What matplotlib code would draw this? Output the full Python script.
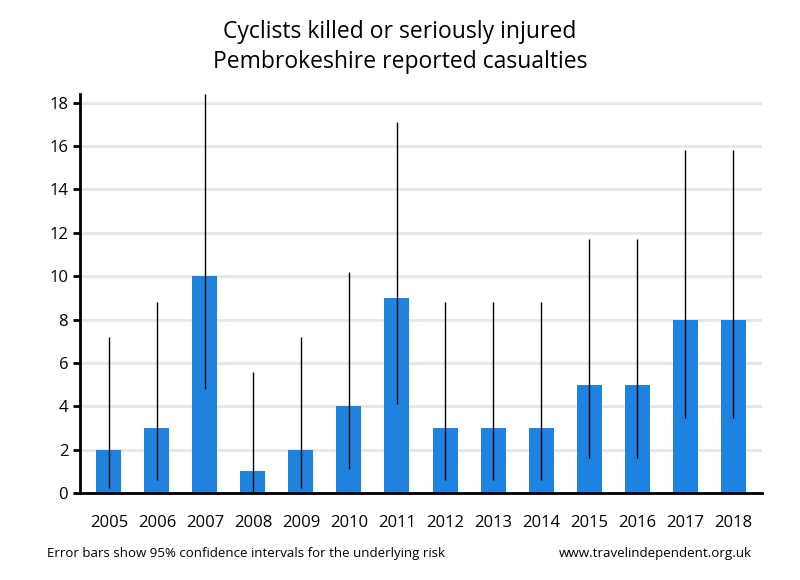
import matplotlib.pyplot as plt

years = ['2005', '2006', '2007', '2008', '2009', '2010', '2011',
         '2012', '2013', '2014', '2015', '2016', '2017', '2018']
casualties = [2, 3, 10, 1, 2, 4, 9, 3, 3, 3, 5, 5, 8, 8]
ci_low = [0.24, 0.62, 4.8, 0.03, 0.24, 1.09, 4.1, 0.62, 0.62, 0.62, 1.62, 1.62, 3.45, 3.45]
ci_high = [7.2, 8.8, 18.4, 5.6, 7.2, 10.2, 17.1, 8.8, 8.8, 8.8, 11.7, 11.7, 15.8, 15.8]

plt.rcParams['font.family'] = ['Open Sans', 'DejaVu Sans']

fig = plt.figure(figsize=(8, 5.8), dpi=100)
ax = fig.add_axes([0.1, 0.15, 0.8525, 0.688])

x = range(len(years))
ax.bar(x, casualties, width=0.52, color='#1e82e0', zorder=2)
ax.vlines(x, ci_low, ci_high, color='black', linewidth=1, zorder=3)

ax.set_xlim(-0.6, 13.6)
ax.set_ylim(0, 18.4)
ax.set_yticks(range(0, 19, 2))
ax.set_xticks(list(x))
ax.set_xticklabels(years)
ax.grid(axis='y', color='#e6e6e6', linewidth=2, zorder=0)
ax.set_axisbelow(True)

for s in ['top', 'right']:
    ax.spines[s].set_visible(False)
ax.spines['left'].set_linewidth(2)
ax.spines['bottom'].set_linewidth(2)
ax.tick_params(axis='x', length=0, pad=16, labelsize=12)
ax.tick_params(axis='y', length=5, width=2, labelsize=12)

fig.text(0.5, 0.945, 'Cyclists killed or seriously injured', ha='center', va='center', fontsize=16.5)
fig.text(0.5, 0.893, 'Pembrokeshire reported casualties', ha='center', va='center', fontsize=16.5)
fig.text(0.059, 0.046, 'Error bars show 95% confidence intervals for the underlying risk',
         ha='left', va='center', fontsize=9.5)
fig.text(0.94, 0.046, 'www.travelindependent.org.uk', ha='right', va='center', fontsize=9.6)

plt.savefig('out.png')
